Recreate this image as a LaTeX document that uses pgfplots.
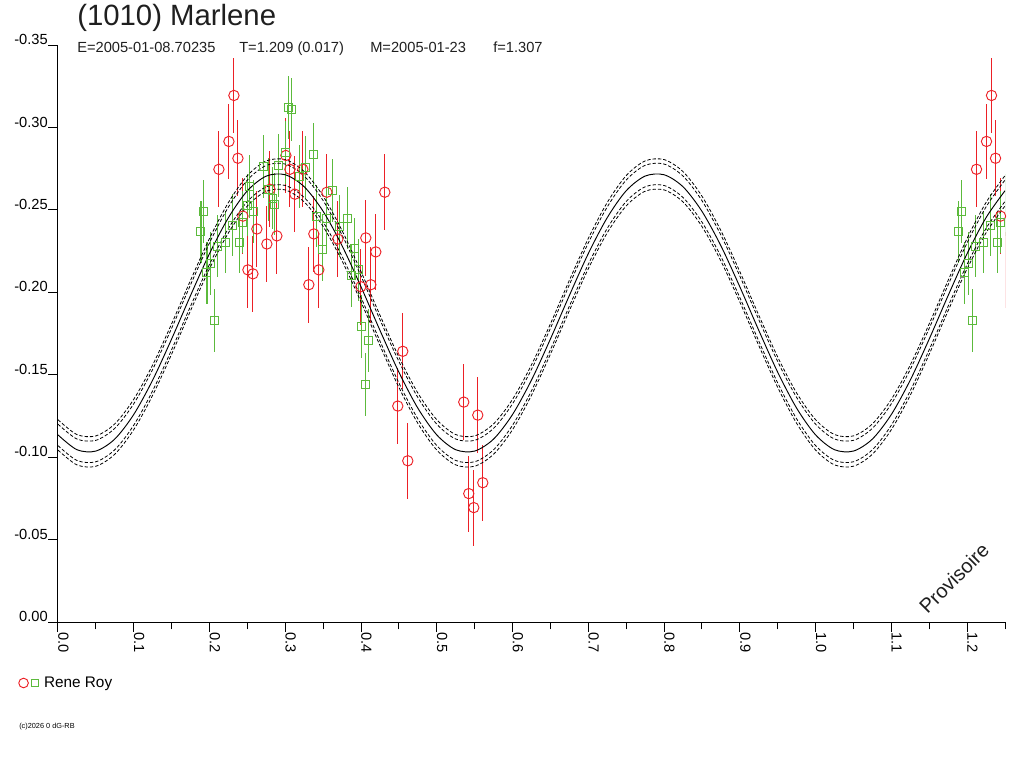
\documentclass[border=0pt]{standalone}
\usepackage{pgfplots}
\pgfplotsset{compat=1.18}
\usepackage{pgfplotstable}
\usepackage{fontspec}
\setmainfont{Liberation Sans}
\definecolor{myred}{RGB}{236,32,38}
\definecolor{mygreen}{RGB}{92,186,60}

\pgfplotstableread{
x      m       a1      b1      a2      b2
0.000 -0.1135 -0.1200 -0.1070 -0.1227 -0.1043
0.025 -0.1045 -0.1110 -0.0980 -0.1137 -0.0953
0.050 -0.1037 -0.1102 -0.0972 -0.1129 -0.0945
0.075 -0.1110 -0.1175 -0.1045 -0.1202 -0.1018
0.100 -0.1259 -0.1324 -0.1194 -0.1351 -0.1167
0.125 -0.1468 -0.1533 -0.1403 -0.1560 -0.1376
0.150 -0.1717 -0.1782 -0.1652 -0.1809 -0.1625
0.175 -0.1981 -0.2046 -0.1916 -0.2073 -0.1889
0.200 -0.2235 -0.2300 -0.2170 -0.2327 -0.2143
0.225 -0.2453 -0.2518 -0.2388 -0.2545 -0.2361
0.250 -0.2616 -0.2681 -0.2551 -0.2708 -0.2524
0.275 -0.2705 -0.2770 -0.2640 -0.2797 -0.2613
0.300 -0.2713 -0.2778 -0.2648 -0.2805 -0.2621
0.325 -0.2640 -0.2705 -0.2575 -0.2732 -0.2548
0.350 -0.2491 -0.2556 -0.2426 -0.2583 -0.2399
0.375 -0.2282 -0.2347 -0.2217 -0.2374 -0.2190
0.400 -0.2033 -0.2098 -0.1968 -0.2125 -0.1941
0.425 -0.1769 -0.1834 -0.1704 -0.1861 -0.1677
0.450 -0.1515 -0.1580 -0.1450 -0.1607 -0.1423
0.475 -0.1297 -0.1362 -0.1232 -0.1389 -0.1205
0.500 -0.1135 -0.1200 -0.1070 -0.1227 -0.1043
0.525 -0.1045 -0.1110 -0.0980 -0.1137 -0.0953
0.550 -0.1037 -0.1102 -0.0972 -0.1129 -0.0945
0.575 -0.1110 -0.1175 -0.1045 -0.1202 -0.1018
0.600 -0.1259 -0.1324 -0.1194 -0.1351 -0.1167
0.625 -0.1468 -0.1533 -0.1403 -0.1560 -0.1376
0.650 -0.1717 -0.1782 -0.1652 -0.1809 -0.1625
0.675 -0.1981 -0.2046 -0.1916 -0.2073 -0.1889
0.700 -0.2235 -0.2300 -0.2170 -0.2327 -0.2143
0.725 -0.2453 -0.2518 -0.2388 -0.2545 -0.2361
0.750 -0.2616 -0.2681 -0.2551 -0.2708 -0.2524
0.775 -0.2705 -0.2770 -0.2640 -0.2797 -0.2613
0.800 -0.2713 -0.2778 -0.2648 -0.2805 -0.2621
0.825 -0.2640 -0.2705 -0.2575 -0.2732 -0.2548
0.850 -0.2491 -0.2556 -0.2426 -0.2583 -0.2399
0.875 -0.2282 -0.2347 -0.2217 -0.2374 -0.2190
0.900 -0.2033 -0.2098 -0.1968 -0.2125 -0.1941
0.925 -0.1769 -0.1834 -0.1704 -0.1861 -0.1677
0.950 -0.1515 -0.1580 -0.1450 -0.1607 -0.1423
0.975 -0.1297 -0.1362 -0.1232 -0.1389 -0.1205
1.000 -0.1135 -0.1200 -0.1070 -0.1227 -0.1043
1.025 -0.1045 -0.1110 -0.0980 -0.1137 -0.0953
1.050 -0.1037 -0.1102 -0.0972 -0.1129 -0.0945
1.075 -0.1110 -0.1175 -0.1045 -0.1202 -0.1018
1.100 -0.1259 -0.1324 -0.1194 -0.1351 -0.1167
1.125 -0.1468 -0.1533 -0.1403 -0.1560 -0.1376
1.150 -0.1717 -0.1782 -0.1652 -0.1809 -0.1625
1.175 -0.1981 -0.2046 -0.1916 -0.2073 -0.1889
1.200 -0.2235 -0.2300 -0.2170 -0.2327 -0.2143
1.225 -0.2453 -0.2518 -0.2388 -0.2545 -0.2361
1.250 -0.2616 -0.2681 -0.2551 -0.2708 -0.2524
}\fitcurve

\pgfplotstableread{
x      y       e
0.2124 -0.2746 0.023
0.2256 -0.2915 0.023
0.2322 -0.3194 0.023
0.2375 -0.2813 0.023
0.2441 -0.2462 0.023
0.2507 -0.2136 0.023
0.2573 -0.2112 0.023
0.2625 -0.2384 0.023
0.2757 -0.2293 0.023
0.2797 -0.2625 0.023
0.2889 -0.2342 0.023
0.3008 -0.2830 0.023
0.3061 -0.2746 0.023
0.3127 -0.2595 0.023
0.3232 -0.2746 0.023
0.3311 -0.2046 0.023
0.3377 -0.2354 0.023
0.3443 -0.2136 0.023
0.3549 -0.2607 0.023
0.3694 -0.2323 0.023
0.3997 -0.2034 0.023
0.4063 -0.2330 0.023
0.4129 -0.2046 0.023
0.4195 -0.2245 0.023
0.4314 -0.2607 0.023
0.4485 -0.1310 0.023
0.4551 -0.1642 0.023
0.4617 -0.0978 0.023
0.5356 -0.1334 0.023
0.5422 -0.0779 0.023
0.5488 -0.0694 0.023
0.5541 -0.1255 0.023
0.5607 -0.0845 0.023
}\reddata

\pgfplotstableread{
x      y       e
0.1887 -0.2366 0.019
0.1926 -0.2492 0.019
0.1966 -0.2118 0.019
0.2018 -0.2173 0.019
0.2071 -0.1829 0.019
0.2111 -0.2281 0.019
0.2216 -0.2305 0.019
0.2309 -0.2408 0.019
0.2401 -0.2305 0.019
0.2441 -0.2426 0.019
0.2507 -0.2529 0.019
0.2533 -0.2643 0.019
0.2586 -0.2492 0.019
0.2718 -0.2764 0.019
0.2784 -0.2625 0.019
0.2836 -0.2571 0.019
0.2863 -0.2535 0.019
0.2916 -0.2770 0.019
0.3008 -0.2849 0.019
0.3047 -0.3120 0.019
0.3087 -0.3108 0.019
0.3193 -0.2704 0.019
0.3272 -0.2758 0.019
0.3377 -0.2836 0.019
0.3417 -0.2462 0.019
0.3496 -0.2257 0.019
0.3549 -0.2450 0.019
0.3628 -0.2619 0.019
0.3720 -0.2402 0.019
0.3826 -0.2450 0.019
0.3879 -0.2100 0.019
0.3918 -0.2263 0.019
0.3971 -0.2136 0.019
0.4011 -0.1792 0.019
0.4063 -0.1442 0.019
0.4103 -0.1708 0.019
}\greendata

\begin{document}
\begin{tikzpicture}
\useasboundingbox (-43.5pt,-109.5pt) rectangle (724.5pt,466.5pt);
\begin{axis}[
  at={(0pt,0pt)}, anchor=south west,
  scale only axis, width=710.25pt, height=432.75pt,
  xmin=0, xmax=1.25, ymin=-0.35, ymax=0, y dir=reverse,
  axis x line*=bottom, axis y line*=left,
  axis line style={-, line width=0.75pt, black},
  tick align=outside, major tick length=7.5pt, minor tick length=5.5pt,
  tick style={black, line width=0.75pt},
  xtick={0,0.1,0.2,0.3,0.4,0.5,0.6,0.7,0.8,0.9,1.0,1.1,1.2},
  xticklabels={0.0,0.1,0.2,0.3,0.4,0.5,0.6,0.7,0.8,0.9,1.0,1.1,1.2},
  minor xtick={0.05,0.15,0.25,0.35,0.45,0.55,0.65,0.75,0.85,0.95,1.05,1.15,1.25},
  ytick={-0.35,-0.30,-0.25,-0.20,-0.15,-0.10,-0.05,0},
  yticklabels={-0.35,-0.30,-0.25,-0.20,-0.15,-0.10,-0.05,0.00},
  xticklabel style={rotate=-90, anchor=south west, inner sep=0pt, font=\fontsize{11}{13}\selectfont},
  yticklabel style={anchor=south east, inner sep=0pt, font=\fontsize{11}{13}\selectfont},
  clip=true,
  legend style={at={(axis description cs:-0.0422,-0.1057)}, anchor=west, draw=none, fill=none,
    inner sep=0pt, font=\fontsize{11.5}{13}\selectfont, column sep=2pt},
  legend cell align=left,
]
\addlegendimage{legend image code/.code={
  \draw[myred, line width=0.7pt, fill=white] (3.6pt,0pt) circle[radius=3.6pt];
  \draw[mygreen, line width=0.7pt, fill=white] (9.2pt,-2.7pt) rectangle (14.6pt,2.7pt);
}}
\addlegendentry{Rene Roy}

% red observations
\addplot[only marks, mark=o, mark size=3.9pt, mark options={draw=myred, fill=white, line width=0.7pt},
  error bars/.cd, y dir=both, y explicit, error mark=none,
  error bar style={draw=myred, line width=0.85pt}]
  table[x=x, y=y, y error=e] {\reddata};
\addplot[only marks, mark=o, mark size=3.9pt, mark options={draw=myred, fill=white, line width=0.7pt},
  error bars/.cd, y dir=both, y explicit, error mark=none,
  error bar style={draw=myred, line width=0.85pt}]
  table[x expr=\thisrow{x}+1, y=y, y error=e] {\reddata};
% green observations
\addplot[only marks, mark=square, mark size=3.0pt, mark options={draw=mygreen, fill=white, line width=0.7pt},
  error bars/.cd, y dir=both, y explicit, error mark=none,
  error bar style={draw=mygreen, line width=0.85pt}]
  table[x=x, y=y, y error=e] {\greendata};
\addplot[only marks, mark=square, mark size=3.0pt, mark options={draw=mygreen, fill=white, line width=0.7pt},
  error bars/.cd, y dir=both, y explicit, error mark=none,
  error bar style={draw=mygreen, line width=0.85pt}]
  table[x expr=\thisrow{x}+1, y=y, y error=e] {\greendata};

% fitted curve and uncertainty
\addplot[black, line width=0.7pt, smooth, no markers] table[x=x, y=m] {\fitcurve};
\addplot[black, line width=0.6pt, smooth, no markers, dash pattern=on 2.5pt off 1.5pt] table[x=x, y=a1] {\fitcurve};
\addplot[black, line width=0.6pt, smooth, no markers, dash pattern=on 2.5pt off 1.5pt] table[x=x, y=b1] {\fitcurve};
\addplot[black, line width=0.6pt, smooth, no markers, dash pattern=on 2.5pt off 1.5pt] table[x=x, y=a2] {\fitcurve};
\addplot[black, line width=0.6pt, smooth, no markers, dash pattern=on 2.5pt off 1.5pt] table[x=x, y=b2] {\fitcurve};
\end{axis}

\node[anchor=base west, inner sep=0pt, font=\fontsize{22}{24}\selectfont, text=black!88] at (14.25pt,447pt) {(1010) Marlene};
\node[anchor=base west, inner sep=0pt, font=\fontsize{11}{13}\selectfont, text=black!88] at (14.25pt,426.75pt) {E=2005-01-08.70235};
\node[anchor=base west, inner sep=0pt, font=\fontsize{11}{13}\selectfont, text=black!88] at (135.75pt,426.75pt) {T=1.209 (0.017)};
\node[anchor=base west, inner sep=0pt, font=\fontsize{11}{13}\selectfont, text=black!88] at (234pt,426.75pt) {M=2005-01-23};
\node[anchor=base west, inner sep=0pt, font=\fontsize{11}{13}\selectfont, text=black!88] at (326.25pt,426.75pt) {f=1.307};
\node[anchor=base west, inner sep=0pt, font=\fontsize{5.5}{6}\selectfont] at (-29.25pt,-79.5pt) {(c)2026 0 dG-RB};
\node[rotate=45, inner sep=0pt, font=\fontsize{15}{16}\selectfont, text=black!88] at (672pt,33pt) {Provisoire};
\end{tikzpicture}
\end{document}
